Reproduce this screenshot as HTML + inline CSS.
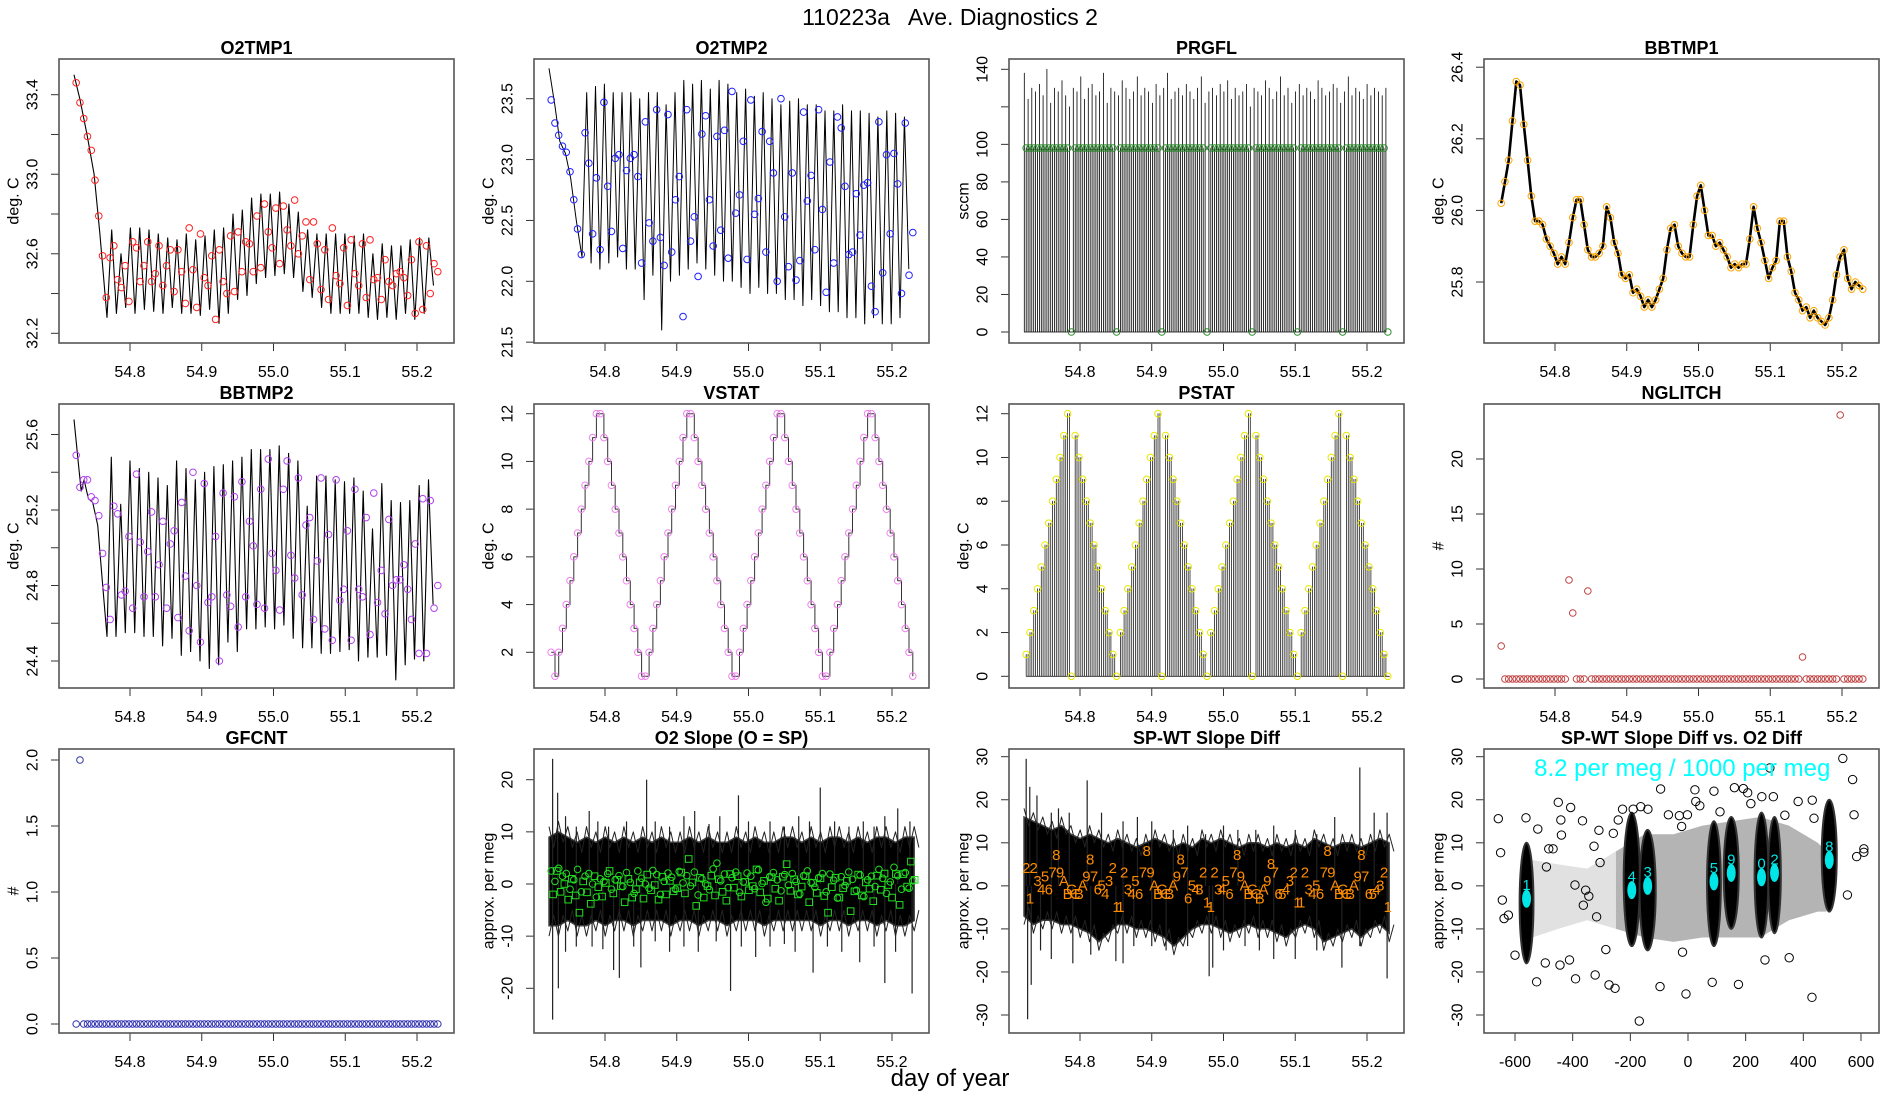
<!DOCTYPE html>
<html><head><meta charset="utf-8"><title>110223a Ave. Diagnostics 2</title>
<style>
html,body{margin:0;padding:0;background:#fff;}
svg{display:block;font-family:"Liberation Sans",Arial,sans-serif;}
</style></head>
<body>
<svg id="chart" width="1900" height="1100" viewBox="0 0 1900 1100" xmlns="http://www.w3.org/2000/svg">
<rect x="0" y="0" width="1900" height="1100" fill="#fff"/>
<text x="950" y="25" font-size="23" text-anchor="middle" xml:space="preserve">110223a   Ave. Diagnostics 2</text>
<text x="950" y="1086" font-size="24" text-anchor="middle">day of year</text>
</svg>
<script>
// ---------- data ----------
const sampleStart = 54.725;
const sampleStep = 0.00525;
const xTickDays = [54.8, 54.9, 55.0, 55.1, 55.2];
const xTickLabels = ["54.8", "54.9", "55.0", "55.1", "55.2"];

// O2TMP1
const o2t1DescDays = [54.722, 54.730, 54.740, 54.750, 54.758, 54.768];
const o2t1DescVals = [33.50, 33.38, 33.20, 33.00, 32.70, 32.28];
const o2t1Peaks = [32.72,32.60,32.73,32.73,32.72,32.70,32.68,32.67,32.70,32.67,32.69,32.72,32.73,32.80,32.82,32.88,32.90,32.90,32.91,32.85,32.81,32.72,32.70,32.70,32.70,32.70,32.69,32.70,32.60,32.65,32.64,32.64,32.67,32.68,32.68];
const o2t1Troughs = [32.30,32.33,32.30,32.32,32.31,32.30,32.33,32.30,32.30,32.29,32.32,32.25,32.30,32.37,32.39,32.45,32.48,32.49,32.50,32.48,32.41,32.38,32.33,32.30,32.30,32.30,32.30,32.28,32.27,32.28,32.27,32.30,32.27,32.30,32.44];
const o2t1Marks = [33.46,33.36,33.28,33.19,33.12,32.97,32.79,32.59,32.38,32.58,32.64,32.47,32.43,32.54,32.36,32.66,32.63,32.46,32.54,32.66,32.46,32.50,32.64,32.44,32.54,32.62,32.41,32.62,32.51,32.35,32.73,32.52,32.33,32.70,32.48,32.44,32.59,32.27,32.62,32.46,32.40,32.69,32.41,32.71,32.51,32.66,32.65,32.51,32.79,32.53,32.85,32.71,32.63,32.83,32.55,32.84,32.72,32.64,32.87,32.60,32.69,32.76,32.47,32.76,32.65,32.42,32.62,32.37,32.73,32.49,32.45,32.63,32.34,32.67,32.50,32.44,32.65,32.38,32.67,32.47,32.48,32.37,32.57,32.46,32.44,32.50,32.51,32.48,32.39,32.57,32.30,32.66,32.32,32.64,32.40,32.55,32.51];

// O2TMP2
const o2t2DescDays = [54.722, 54.730, 54.737, 54.745, 54.752, 54.760, 54.768];
const o2t2DescVals = [23.75, 23.45, 23.15, 23.05, 22.85, 22.50, 22.20];
const o2t2Peaks = [23.55,23.60,23.62,23.55,23.55,23.55,23.50,23.55,23.55,23.45,23.55,23.65,23.62,23.65,23.58,23.65,23.62,23.55,23.58,23.52,23.55,23.50,23.45,23.48,23.50,23.45,23.45,23.40,23.40,23.45,23.40,23.40,23.38,23.35,23.40,23.38,23.35];
const o2t2Troughs = [22.15,22.10,22.15,22.20,22.10,22.10,21.85,22.05,21.60,22.00,22.05,22.10,22.15,22.10,22.05,22.00,22.00,21.95,21.90,21.95,21.90,21.90,21.85,21.85,21.80,21.85,21.80,21.75,21.75,21.70,21.70,21.65,21.70,21.65,21.65,21.70,22.10];
const o2t2Marks = [23.49,23.30,23.20,23.11,23.06,22.90,22.67,22.43,22.22,23.22,22.97,22.39,22.85,22.26,23.47,22.78,22.41,23.01,23.04,22.27,22.91,23.01,23.04,22.86,22.15,23.31,22.48,22.33,23.41,22.36,22.13,23.37,22.24,22.67,22.86,21.71,23.41,22.33,22.53,22.04,23.21,23.36,22.67,22.29,23.19,22.42,23.24,22.19,23.56,22.56,22.71,23.15,22.18,23.49,22.55,22.68,23.23,22.24,23.15,22.89,22.00,23.50,22.53,22.12,22.89,22.01,22.17,23.39,22.66,22.87,22.26,23.41,22.59,21.91,22.98,22.15,23.35,23.26,22.78,22.22,22.24,22.72,22.38,22.79,22.81,21.96,21.75,23.31,22.07,23.04,22.39,23.05,22.80,21.90,23.30,22.05,22.40];

// PRGFL
const prgSpikes = [138,124,130,128,132,126,140,122,130,128,134,126,120,130,128,136,124,130,132,126,128,138,122,130,128,126,134,130,124,128,136,126,130,128,122,132,126,130,138,124,128,130,126,132,128,124,130,136,122,128,130,126,132,128,134,124,130,126,128,132,120,130,128,126,134,130,124,128,136,126,130,122,128,132,126,130,128,124,134,130,126,128,132,130,122,128,136,126,130,128,124,132,126,130,128,126,130];
const prgMarks = [98,98,98,98,98,98,98,98,98,98,98,98,0,98,98,98,98,98,98,98,98,98,98,98,0,98,98,98,98,98,98,98,98,98,98,98,0,98,98,98,98,98,98,98,98,98,98,98,0,98,98,98,98,98,98,98,98,98,98,98,0,98,98,98,98,98,98,98,98,98,98,98,0,98,98,98,98,98,98,98,98,98,98,98,0,98,98,98,98,98,98,98,98,98,98,98,0];

// BBTMP1
const bb1Marks = [26.02,26.08,26.14,26.25,26.36,26.35,26.24,26.14,26.04,25.97,25.97,25.96,25.92,25.90,25.88,25.85,25.87,25.85,25.91,25.98,26.03,26.03,25.96,25.89,25.87,25.87,25.88,25.90,26.01,25.98,25.91,25.88,25.82,25.81,25.82,25.77,25.78,25.76,25.73,25.75,25.73,25.75,25.78,25.81,25.89,25.95,25.96,25.90,25.88,25.87,25.87,25.96,26.04,26.07,26.00,25.93,25.93,25.90,25.91,25.89,25.87,25.84,25.85,25.84,25.85,25.85,25.92,26.01,25.95,25.91,25.86,25.81,25.84,25.86,25.97,25.97,25.87,25.83,25.77,25.75,25.72,25.73,25.70,25.72,25.70,25.69,25.68,25.70,25.75,25.82,25.87,25.89,25.81,25.78,25.80,25.79,25.78];

// BBTMP2
const bb2DescDays = [54.722, 54.728, 54.732, 54.736, 54.742, 54.748, 54.755, 54.762, 54.768];
const bb2DescVals = [25.68, 25.45, 25.30, 25.36, 25.26, 25.24, 25.12, 24.80, 24.53];
const bb2Peaks = [25.48,25.23,25.46,25.42,25.40,25.37,25.33,25.46,25.42,25.36,25.40,25.43,25.44,25.46,25.48,25.52,25.52,25.52,25.54,25.50,25.46,25.22,25.38,25.38,25.36,25.35,25.37,25.30,25.10,25.34,25.25,25.24,25.25,25.33,25.36];
const bb2Troughs = [24.53,24.55,24.55,24.53,24.53,24.48,24.52,24.43,24.45,24.40,24.36,24.38,24.50,24.45,24.57,24.57,24.58,24.57,24.59,24.52,24.47,24.47,24.44,24.44,24.45,24.46,24.40,24.42,24.42,24.43,24.30,24.38,24.41,24.40,24.70];
const bb2Marks = [25.49,25.32,25.36,25.36,25.27,25.25,25.17,24.97,24.79,24.62,25.22,25.18,24.75,24.77,25.06,24.68,25.39,25.03,24.74,24.98,25.19,24.74,24.91,25.14,24.68,25.02,25.09,24.63,25.24,24.85,24.56,25.40,24.80,24.50,25.34,24.71,24.74,25.06,24.40,25.29,24.75,24.69,25.27,24.58,25.35,24.74,25.14,25.01,24.70,25.31,24.68,25.47,24.97,24.88,24.67,25.31,25.46,24.96,24.84,25.37,24.75,25.12,25.16,24.62,24.93,25.37,24.57,25.07,24.51,25.36,24.72,24.78,25.09,24.51,25.31,24.78,24.74,25.16,24.54,25.29,24.71,24.88,24.65,25.15,24.80,24.83,24.83,24.91,24.78,24.62,25.02,24.44,25.26,24.44,25.25,24.68,24.80];

// VSTAT / PSTAT
const vstat = [2,1,2,3,4,5,6,7,8,9,10,11,12,12,11,10,9,8,7,6,5,4,3,2,1,
 1,2,3,4,5,6,7,8,9,10,11,12,12,11,10,9,8,7,6,5,4,3,2,1,
 1,2,3,4,5,6,7,8,9,10,11,12,12,11,10,9,8,7,6,5,4,3,2,1,
 1,2,3,4,5,6,7,8,9,10,11,12,12,11,10,9,8,7,6,5,4,3,2,1];
const pstat = [1,2,3,4,5,6,7,8,9,10,11,12,0,11,10,9,8,7,6,5,4,3,2,1,0,
 2,3,4,5,6,7,8,9,10,11,12,0,11,10,9,8,7,6,5,4,3,2,1,0,
 2,3,4,5,6,7,8,9,10,11,12,0,11,10,9,8,7,6,5,4,3,2,1,0,
 2,3,4,5,6,7,8,9,10,11,12,0,11,10,9,8,7,6,5,4,3,2,1,0];

// NGLITCH / GFCNT
const nglitch = [3,0,0,0,0,0,0,0,0,0,0,0,0,0,0,0,0,0,9,6,0,0,0,8,0,0,0,0,0,0,0,0,0,0,0,0,0,0,0,0,0,0,0,0,0,0,0,0,0,0,0,0,0,0,0,0,0,0,0,0,0,0,0,0,0,0,0,0,0,0,0,0,0,0,0,0,0,0,0,0,2,0,0,0,0,0,0,0,0,0,24,0,0,0,0,0,0];
const gfcnt = [0,2,0,0,0,0,0,0,0,0,0,0,0,0,0,0,0,0,0,0,0,0,0,0,0,0,0,0,0,0,0,0,0,0,0,0,0,0,0,0,0,0,0,0,0,0,0,0,0,0,0,0,0,0,0,0,0,0,0,0,0,0,0,0,0,0,0,0,0,0,0,0,0,0,0,0,0,0,0,0,0,0,0,0,0,0,0,0,0,0,0,0,0,0,0,0,0];

// O2 Slope
const o2sBandHi = [9,10,9,8,9,8,9,8,9,8,9,8,9,8,8,9,8,9,8,8,9,8,9,8,8,9,9,8,9,8,9,9,8,9,8,9,9,8,9,9];
const o2sBandLo = [-8,-8,-7,-8,-8,-7,-8,-7,-7,-8,-7,-7,-7,-8,-7,-7,-8,-7,-7,-8,-7,-7,-7,-8,-7,-7,-7,-7,-7,-8,-7,-7,-8,-7,-7,-8,-7,-8,-8,-7];
const o2sSpikeDays = [54.727,54.734,54.745,54.760,54.778,54.790,54.805,54.830,54.858,54.870,54.890,54.910,54.925,54.945,54.960,54.986,55.000,55.030,55.050,55.070,55.085,55.100,55.120,55.140,55.160,55.175,55.190,55.208,55.225,
 54.727,54.735,54.745,54.760,54.782,54.797,54.812,54.820,54.840,54.850,54.870,54.890,54.910,54.930,54.955,54.975,54.990,55.010,55.030,55.050,55.065,55.090,55.110,55.130,55.155,55.175,55.190,55.205,55.228];
const o2sSpikeVals = [24,17.5,13,11,14,12,11,12,20,12,11,13,14,11.5,13,17,12,12,11,13,12,18.5,12,11,12,11,13,14.5,12,
 -26,-20,-13,-12,-12,-12.5,-16.5,-18,-12,-16,-11,-13,-12,-13,-11,-20.5,-12,-14,-12,-11.5,-13,-17,-12,-13,-15,-12,-19,-13,-21];
const o2sCircles = [2.5,0.5,3,1.5,2,-1,0.8,2.8,-1.5,1.5,2,0,-2.5,1,0.5,2,-1,0.8,1.6,-0.5,2.2,0.3,-1.8,2.5,1.1,0,-0.8,2.6,1.8,-2,0.5,2.1,1.3,-1,2.4,0.2,1.6,-0.4,2.3,-2.1,1,0,-1.1,2.9,4,0.6,1.9,-0.7,1.2,2.3,-1.6,0.4,2.1,1.5,-0.9,2.7,0.1,-3.5,1.4,2.2,0.8,-1.3,1.8,-0.2,2,0.5,-1.9,1.6,2.5,0.3,-0.6,1.2,2,-1.5,1.9,0.7,-2.7,1.4,-0.3,2.3,0.9,-1.2,1.7,-2.4,0.8,1.5,-0.5,2.8,1.1,-1.8,0.4,3.2,1.6,-1,2.2,-0.8,0.6];
const o2sSquares = [-2,2.5,-1.5,0,-3,1,-2.2,-5.5,0.5,-1.6,-3.8,1.5,-0.6,-2.4,0.2,2.5,-1.8,0.8,-0.4,-3.5,1,-2.6,-1,0.3,-2.8,1.8,-1.2,-0.2,-3,1.4,-2,0.6,-1.4,-0.8,2.2,-1.8,4.8,0.3,-4.2,1.2,-2.6,-0.4,1.6,-2.2,0.9,-1.5,-3.2,1.9,-0.7,1.5,-2.4,0.4,-1.2,-0.4,2.8,-1.6,0.6,-2.8,1.3,-0.9,-3.2,1.4,3.8,-1.3,0.9,-2,-0.5,1.5,-3.5,0.2,-1.7,1.1,-2.3,-5.5,-0.6,1.2,-2.6,-0.8,0.6,-5.2,-1.4,1.8,-2.2,0.3,-0.9,-3.3,1.6,-1.1,2,-0.2,-2.6,1.9,-4,1.9,-0.5,4.3,0.8];

// SP-WT Slope Diff
const spwtBandHi = [16,15,14,13,14,12,11,12,11,10,11,10,9,10,11,10,9,10,9,11,10,11,10,9,10,10,9,10,9,10,9,11,10,9,10,10,9,10,11,10];
const spwtBandLo = [-7,-9,-8,-8,-9,-9,-10,-11,-13,-11,-9,-9,-10,-10,-11,-12,-14,-12,-10,-9,-9,-10,-11,-10,-9,-10,-10,-11,-12,-10,-9,-10,-13,-12,-11,-10,-12,-10,-9,-11];
const spwtSpikeDays = [54.725,54.730,54.740,54.760,54.770,54.785,54.810,54.830,54.860,54.880,54.900,54.930,54.950,54.975,55.000,55.020,55.045,55.070,55.100,55.130,55.155,55.190,55.210,55.228,
 54.727,54.732,54.745,54.760,54.790,54.815,54.850,54.860,54.875,54.900,54.920,54.950,54.980,54.985,55.000,55.030,55.050,55.070,55.100,55.130,55.165,55.190,55.228];
const spwtSpikeVals = [29.5,23,21,17,18,17,24.5,17,15,16,15,13,14,12,14,13,13,14,13,12,16,27.5,17,17,
 -31,-23,-15,-17,-18,-16,-17.5,-18,-14,-14,-15,-14,-21,-19,-15,-14,-15,-17,-17,-15,-19,-14,-21.5];
const spwtLabelVals = [4,-3,4,1,-1,2,-1,3,7,3,1,-2,-1,-2,-2,0,2,6,2,-1,0,-2,1,4,-5,
 -5,3,-1,-2,1,-2,3,8,3,0,-2,-1,-2,-2,0,2,6,3,-3,0,-1,-1,3,-4,
 -5,3,-1,-1,1,-2,3,7,2,0,-2,-1,-2,-3,-1,1,5,3,-2,-2,-1,1,3,-4,
 -4,3,-1,-2,0,-2,3,8,3,0,-2,-1,-2,-2,0,2,7,2,-2,-2,-1,0,3,-5];
const valveChars = ["0","1","2","3","4","5","6","7","8","9","A","B","C"];

// Scatter
const scClusterX = [-560,-195,-140,90,150,255,300,490];
const scClusterHalfW = [24,28,28,24,26,24,22,26];
const scClusterLo = [-18,-14,-15,-14,-10,-12,-11,-6];
const scClusterHi = [10,17,13,15,16,17,16,20];
const scClusterLabel = ["1","4","3","5","9","0","2","8"];
const scClusterMid = [-3,-1,0,1,3,2,3,6];
const scCloudX = [-250,-150,-50,50,150,250,350,450,480];
const scCloudHi = [8,12,12,14,15,16,14,10,8];
const scCloudLo = [-10,-12,-13,-12,-12,-12,-8,-6,-6];
const scSparseX = [-540,-450,-350,-250];
const scSparseHi = [6,5,4,8];
const scSparseLo = [-12,-10,-8,-10];
const scPtX = [-658,-650,-644,-638,-623,-600,-562,-525,-521,-495,-491,-483,-468,-450,-441,-439,-444,-411,-407,-392,-390,-366,-363,-355,-344,-326,-322,-317,-309,-305,-285,-274,-259,-253,-242,-227,-190,-169,-164,-139,-95,-97,-68,-30,-22,-19,-7,-2,24,27,41,84,90,111,161,175,192,207,218,256,267,284,296,336,351,382,431,430,437,537,553,571,576,585,610,610];
const scPtY = [15.6,7.7,-3.3,-7.6,-6.8,-16.1,15.8,-22.3,13.2,-17.9,4.4,8.6,8.6,19.4,15.3,11.8,-18.4,-17.2,18.2,0.2,-21.6,15.1,-4.5,-1.0,-2.4,9.2,-20.7,-7.2,12.9,5.4,-14.8,-23.0,12.2,-23.8,15.3,17.8,17.8,-31.4,18.4,17.8,22.5,-23.4,16.5,16.3,13.8,-15.4,-25.1,16.5,22.3,19.6,18.6,-22.4,22.0,17.2,22.8,-22.9,22.6,21.6,19.1,20.7,-17.2,27.4,20.7,16.4,-16.7,19.6,19.9,-25.9,15.7,29.6,-2.1,24.7,16.5,6.8,8.6,7.8];

// ---------- drawing ----------
const NS = 'http://www.w3.org/2000/svg';
const svg = document.getElementById('chart');
function mk(tag, attrs, parent) {
  const e = document.createElementNS(NS, tag);
  for (const k in attrs) e.setAttribute(k, attrs[k]);
  (parent || svg).appendChild(e);
  return e;
}
const PW = 395, PH = 284;
function geom(c, r) { return { L: 59 + 475 * c, T: 59 + 345 * r }; }
function timeX(c) { const L = 59 + 475 * c; return d => L + 71 + (d - 54.8) * 717.5; }
function linY(v1, p1, v2, p2) { return v => p1 + (v - v1) * (p2 - p1) / (v2 - v1); }
function sampleDay(i) { return sampleStart + i * sampleStep; }

function panel(c, r, name, title, ylab, yTicks, yLabels, ys, xTicks, xLabels, xs) {
  const g0 = geom(c, r);
  const L = g0.L, T = g0.T;
  const g = mk('g', {});
  
  
  const t = mk('text', { x: L + PW / 2, y: T - 5, 'font-size': 18, 'font-weight': 'bold', 'text-anchor': 'middle' }, g);
  
  
  t.textContent = title;
  const yl = mk('text', { x: 0, y: 0, 'font-size': 16, 'text-anchor': 'middle', transform: `translate(${L - 45},${T + PH / 2}) rotate(-90)`, 'dominant-baseline': 'central' }, g);
  
  
  yl.textContent = ylab;
  const yax = mk('g', {}, g);
  
  
  yTicks.forEach((v, i) => {
    const y = ys(v);
    mk('line', { x1: L, x2: L - 8, y1: y, y2: y, stroke: '#333', 'stroke-width': 1 }, yax);
    if (yLabels[i]) {
      const tl = mk('text', { x: 0, y: 0, 'font-size': 16, 'text-anchor': 'middle', 'dominant-baseline': 'central', transform: `translate(${L - 26},${y}) rotate(-90)` }, yax);
      
      
      tl.textContent = yLabels[i];
    }
  });
  const xax = mk('g', {}, g);
  
  
  xTicks.forEach((v, i) => {
    const x = xs(v);
    mk('line', { x1: x, x2: x, y1: T + PH, y2: T + PH + 8, stroke: '#333', 'stroke-width': 1 }, xax);
    const tl = mk('text', { x: x, y: T + PH + 34, 'font-size': 16, 'text-anchor': 'middle' }, xax);
    
    
    tl.textContent = xLabels[i];
  });
  const plot = mk('g', {}, g);
  
  
  const box = mk('rect', { x: L, y: T, width: PW, height: PH, fill: 'none', stroke: '#555', 'stroke-width': 1.6 }, g);
  
  
  return plot;
}
function polyline(parent, pts, stroke, w, name) {
  const p = mk('polyline', { points: pts.map(q => q[0].toFixed(1) + ',' + q[1].toFixed(1)).join(' '), fill: 'none', stroke: stroke, 'stroke-width': w, 'stroke-linejoin': 'round' }, parent);
  
  
  return p;
}
function circles(parent, vals, xs, ys, color, r, name) {
  vals.forEach((v, i) => {
    const e = mk('circle', { cx: xs(sampleDay(i)), cy: ys(v), r: r, fill: 'none', stroke: color, 'stroke-width': 1 }, parent);
    
    
  });
}
function sawPts(descD, descV, peaks, troughs, start, per, xs, ys) {
  const pts = descD.map((d, i) => [xs(d), ys(descV[i])]);
  peaks.forEach((p, k) => {
    pts.push([xs(start + k * per), ys(p)]);
    pts.push([xs(start + (k + 0.5) * per), ys(troughs[k])]);
  });
  return pts;
}
function ticksRange(a, b, s) { const o = []; for (let v = a; v <= b + 1e-9; v += s) o.push(+v.toFixed(4)); return o; }

// Panel 1: O2TMP1
{
  const xs = timeX(0), ys = linY(33.4, 94.7, 32.2, 333.3);
  const yt = ticksRange(32.2, 33.4, 0.2);
  const p = panel(0, 0, 'o2tmp1', 'O2TMP1', 'deg. C', yt, ['32.2', '', '32.6', '', '33.0', '', '33.4'], ys, xTickDays, xTickLabels, xs);
  polyline(p, sawPts(o2t1DescDays, o2t1DescVals, o2t1Peaks, o2t1Troughs, 54.7745, 0.0130, xs, ys), '#000', 1.1, 'o2tmp1-line');
  circles(p, o2t1Marks, xs, ys, '#ff2020', 3.3, 'o2tmp1-marker');
}
// Panel 2: O2TMP2
{
  const xs = timeX(1), ys = linY(23.5, 98.7, 22.0, 281.3);
  const yt = ticksRange(21.5, 23.5, 0.5);
  const p = panel(1, 0, 'o2tmp2', 'O2TMP2', 'deg. C', yt, ['21.5', '22.0', '22.5', '23.0', '23.5'], ys, xTickDays, xTickLabels, xs);
  polyline(p, sawPts(o2t2DescDays, o2t2DescVals, o2t2Peaks, o2t2Troughs, 54.7745, 0.0123, xs, ys), '#000', 1.0, 'o2tmp2-line');
  circles(p, o2t2Marks, xs, ys, '#2020ff', 3.3, 'o2tmp2-marker');
}
// Panel 3: PRGFL
{
  const xs = timeX(2), ys = linY(0, 332, 140, 69.3);
  const yt = ticksRange(0, 140, 20);
  const p = panel(2, 0, 'prgfl', 'PRGFL', 'sccm', yt, ['0', '20', '40', '60', '80', '100', '', '140'], ys, xTickDays, xTickLabels, xs);
  const pts = [];
  prgSpikes.forEach((h, i) => {
    const d = sampleDay(i);
    pts.push([xs(d - sampleStep * 0.5), ys(0)]);
    pts.push([xs(d - sampleStep * 0.5), ys(h)]);
    pts.push([xs(d - sampleStep * 0.5), ys(0)]);
    if (prgMarks[i] > 0) {
      pts.push([xs(d), ys(0)]);
      pts.push([xs(d), ys(prgMarks[i])]);
      pts.push([xs(d), ys(0)]);
    }
  });
  polyline(p, pts, '#000', 0.8, 'prgfl-line');
  circles(p, prgMarks, xs, ys, '#2e8b2e', 3.3, 'prgfl-marker');
}
// Panel 4: BBTMP1
{
  const xs = timeX(3), ys = linY(26.4, 67.2, 25.8, 282);
  const yt = ticksRange(25.8, 26.4, 0.2);
  const p = panel(3, 0, 'bbtmp1', 'BBTMP1', 'deg. C', yt, ['25.8', '26.0', '26.2', '26.4'], ys, xTickDays, xTickLabels, xs);
  polyline(p, bb1Marks.map((v, i) => [xs(sampleDay(i)), ys(v)]), '#000', 2.6, 'bbtmp1-line');
  circles(p, bb1Marks, xs, ys, '#ffa500', 3.3, 'bbtmp1-marker');
}
// Panel 5: BBTMP2
{
  const xs = timeX(0), ys = linY(25.6, 434.5, 24.4, 661);
  const yt = ticksRange(24.4, 25.6, 0.2);
  const p = panel(0, 1, 'bbtmp2', 'BBTMP2', 'deg. C', yt, ['24.4', '', '24.8', '', '25.2', '', '25.6'], ys, xTickDays, xTickLabels, xs);
  polyline(p, sawPts(bb2DescDays, bb2DescVals, bb2Peaks, bb2Troughs, 54.774, 0.0130, xs, ys), '#000', 1.1, 'bbtmp2-line');
  circles(p, bb2Marks, xs, ys, '#b040f0', 3.3, 'bbtmp2-marker');
}
// Panel 6: VSTAT
{
  const xs = timeX(1), ys = linY(12, 413.7, 2, 652.3);
  const yt = ticksRange(2, 12, 2);
  const p = panel(1, 1, 'vstat', 'VSTAT', 'deg. C', yt, yt.map(String), ys, xTickDays, xTickLabels, xs);
  const pts = [];
  vstat.forEach((v, i) => {
    if (i > 0) pts.push([xs(sampleDay(i)), ys(vstat[i - 1])]);
    pts.push([xs(sampleDay(i)), ys(v)]);
  });
  polyline(p, pts, '#333', 1, 'vstat-step-line');
  circles(p, vstat, xs, ys, '#ee82ee', 3.3, 'vstat-marker');
}
// Panel 7: PSTAT
{
  const xs = timeX(2), ys = linY(12, 413.7, 0, 676.3);
  const yt = ticksRange(0, 12, 2);
  const p = panel(2, 1, 'pstat', 'PSTAT', 'deg. C', yt, yt.map(String), ys, xTickDays, xTickLabels, xs);
  const pts = [];
  pstat.forEach((v, i) => {
    for (let k = 0; k < 2; k++) {
      const d = sampleDay(i) + k * sampleStep / 2;
      pts.push([xs(d), ys(0)]);
      pts.push([xs(d), ys(v)]);
      pts.push([xs(d), ys(0)]);
    }
  });
  polyline(p, pts, '#222', 0.8, 'pstat-line');
  circles(p, pstat, xs, ys, '#e8e800', 3.3, 'pstat-marker');
}
// Panel 8: NGLITCH
{
  const xs = timeX(3), ys = linY(0, 679, 20, 459);
  const yt = ticksRange(0, 20, 5);
  const p = panel(3, 1, 'nglitch', 'NGLITCH', '#', yt, yt.map(String), ys, xTickDays, xTickLabels, xs);
  circles(p, nglitch, xs, ys, '#c04040', 3.3, 'nglitch-marker');
}
// Panel 9: GFCNT
{
  const xs = timeX(0), ys = linY(0, 1024, 2, 760);
  const yt = [0, 0.5, 1, 1.5, 2];
  const p = panel(0, 2, 'gfcnt', 'GFCNT', '#', yt, ['0.0', '0.5', '1.0', '1.5', '2.0'], ys, xTickDays, xTickLabels, xs);
  circles(p, gfcnt, xs, ys, '#3030b0', 3.3, 'gfcnt-marker');
}
// band helper
function band(p, hi, lo, spikeD, spikeV, xs, ys, name) {
  const n = hi.length, d0 = 54.722, d1 = 55.231;
  const dd = i => d0 + (d1 - d0) * i / (n - 1);
  const pts = hi.map((v, i) => [xs(dd(i)), ys(v)]).concat(lo.map((v, i) => [xs(dd(i)), ys(v)]).reverse());
  const poly = mk('polygon', { points: pts.map(q => q[0].toFixed(1) + ',' + q[1].toFixed(1)).join(' '), fill: '#000', stroke: '#444', 'stroke-width': 1.5 }, p);
  
  
  const jag = [];
  hi.forEach((v, i) => { jag.push([xs(dd(i)), ys(v + 2)]); jag.push([xs(dd(i) + (d1 - d0) / (n - 1) / 2), ys(v - 2)]); });
  polyline(p, jag, '#222', 1, name + '-upper-noise');
  const jag2 = [];
  lo.forEach((v, i) => { jag2.push([xs(dd(i)), ys(v - 2)]); jag2.push([xs(dd(i) + (d1 - d0) / (n - 1) / 2), ys(v + 2)]); });
  polyline(p, jag2, '#222', 1, name + '-lower-noise');
  spikeD.forEach((d, i) => {
    const l = mk('line', { x1: xs(d), x2: xs(d), y1: ys(0), y2: ys(spikeV[i]), stroke: '#222', 'stroke-width': 1.2 }, p);
    
    
  });
}
// Panel 10: O2 Slope
{
  const xs = timeX(1), ys = linY(20, 779.7, -20, 988.3);
  const yt = [-20, -10, 0, 10, 20];
  const p = panel(1, 2, 'o2-slope', 'O2 Slope (O = SP)', 'approx. per meg', yt, yt.map(String), ys, xTickDays, xTickLabels, xs);
  band(p, o2sBandHi, o2sBandLo, o2sSpikeDays, o2sSpikeVals, xs, ys, 'o2-slope');
  circles(p, o2sCircles, d => xs(d), ys, '#22dd22', 3.3, 'o2-slope-circle-marker');
  o2sSquares.forEach((v, i) => {
    const e = mk('rect', { x: xs(sampleDay(i) + sampleStep / 2) - 3.3, y: ys(v) - 3.3, width: 6.6, height: 6.6, fill: 'none', stroke: '#22dd22', 'stroke-width': 1 }, p);
    
    
  });
}
// Panel 11: SP-WT Slope Diff
{
  const xs = timeX(2), ys = linY(30, 756.7, -30, 1015);
  const yt = [-30, -20, -10, 0, 10, 20, 30];
  const p = panel(2, 2, 'spwt-slope', 'SP-WT Slope Diff', 'approx. per meg', yt, yt.map(String), ys, xTickDays, xTickLabels, xs);
  band(p, spwtBandHi, spwtBandLo, spwtSpikeDays, spwtSpikeVals, xs, ys, 'spwt-slope');
  spwtLabelVals.forEach((v, i) => {
    const e = mk('text', { x: xs(sampleDay(i)), y: ys(v), 'font-size': 15, fill: '#ff8c00', 'text-anchor': 'middle', 'dominant-baseline': 'central' }, p);
    
    
    e.textContent = valveChars[vstat[i]];
  });
}
// Panel 12: scatter
{
  const L = geom(3, 2).L;
  const xs = v => L + 204 + v * 0.2883, ys = linY(30, 756.7, -30, 1015);
  const yt = [-30, -20, -10, 0, 10, 20, 30];
  const xt = [-600, -400, -200, 0, 200, 400, 600];
  const p = panel(3, 2, 'scatter', 'SP-WT Slope Diff vs. O2 Diff', 'approx. per meg', yt, yt.map(String), ys, xt, xt.map(String), xs);
  const sp = scSparseX.map((x, i) => [xs(x), ys(scSparseHi[i])]).concat(scSparseX.map((x, i) => [xs(x), ys(scSparseLo[i])]).reverse());
  const s1 = mk('polygon', { points: sp.map(q => q.join(',')).join(' '), fill: '#aaa', opacity: 0.35 }, p);
  
  
  const cp = scCloudX.map((x, i) => [xs(x), ys(scCloudHi[i])]).concat(scCloudX.map((x, i) => [xs(x), ys(scCloudLo[i])]).reverse());
  const c1 = mk('polygon', { points: cp.map(q => q.join(',')).join(' '), fill: '#777', opacity: 0.55 }, p);
  
  
  scClusterX.forEach((x, i) => {
    const cy = (ys(scClusterHi[i]) + ys(scClusterLo[i])) / 2;
    const ry = (ys(scClusterLo[i]) - ys(scClusterHi[i])) / 2;
    const e = mk('ellipse', { cx: xs(x), cy: cy, rx: scClusterHalfW[i] * 0.2883, ry: ry, fill: '#000', stroke: '#333', 'stroke-width': 2 }, p);
    
    
  });
  scPtX.forEach((x, i) => {
    const e = mk('circle', { cx: xs(x), cy: ys(scPtY[i]), r: 4.2, fill: 'none', stroke: '#000', 'stroke-width': 1 }, p);
    
    
  });
  scClusterX.forEach((x, i) => {
    const b = mk('ellipse', { cx: xs(x), cy: ys(scClusterMid[i]), rx: 4.5, ry: 9, fill: '#00e5e5' }, p);
    
    
    const t = mk('text', { x: xs(x), y: ys(scClusterMid[i] + 2), 'font-size': 15, fill: '#00e5e5', 'text-anchor': 'middle' }, p);
    
    
    t.textContent = scClusterLabel[i];
  });
  const ann = mk('text', { x: xs(-20), y: ys(25.5), 'font-size': 24, fill: '#00ffff', 'text-anchor': 'middle' }, p);
  
  
  ann.textContent = '8.2 per meg / 1000 per meg';
}
</script>
</body></html>
